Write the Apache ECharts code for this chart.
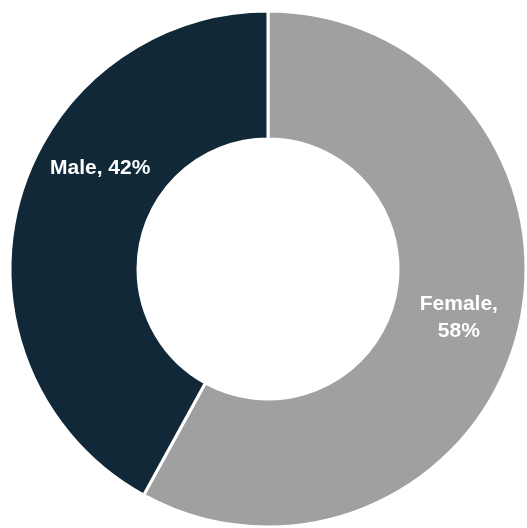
<!DOCTYPE html>
<html>
<head>
<meta charset="utf-8">
<script src="https://cdn.jsdelivr.net/npm/echarts@6/dist/echarts.min.js"></script>
<style>
  html, body { margin: 0; padding: 0; background: #fff; }
  #chart { width: 527px; height: 528px; }
</style>
</head>
<body>
<div id="chart"></div>
<script>
// 性别占比
var genders = ['Female', 'Male'];
var shares = [58, 42];
var colors = ['#a0a0a0', '#102837'];

var myChart = echarts.init(document.getElementById('chart'));

var data = [];
for (var i = 0; i < genders.length; i++) {
    data.push({
        name: genders[i],
        value: shares[i],
        itemStyle: { color: colors[i] },
        label: i === 1 ? { offset: [23, -52], formatter: '{b}, {c}%' } : { formatter: '{b},\n{c}%' }
    });
}

var option = {
    animation: false,
    series: [
        {
            type: 'pie',
            center: [268, 269],
            radius: [130, 258],
            startAngle: 90,
            clockwise: true,
            itemStyle: {
                borderColor: '#fff',
                borderWidth: 3
            },
            label: {
                show: true,
                position: 'inside',
                color: '#fff',
                fontFamily: 'Liberation Sans, Arial, sans-serif',
                fontWeight: 'bold',
                fontSize: 21,
                lineHeight: 27,
                align: 'center'
            },
            labelLine: { show: false },
            emphasis: { disabled: true },
            data: data
        }
    ]
};
myChart.setOption(option);
</script>
</body>
</html>
